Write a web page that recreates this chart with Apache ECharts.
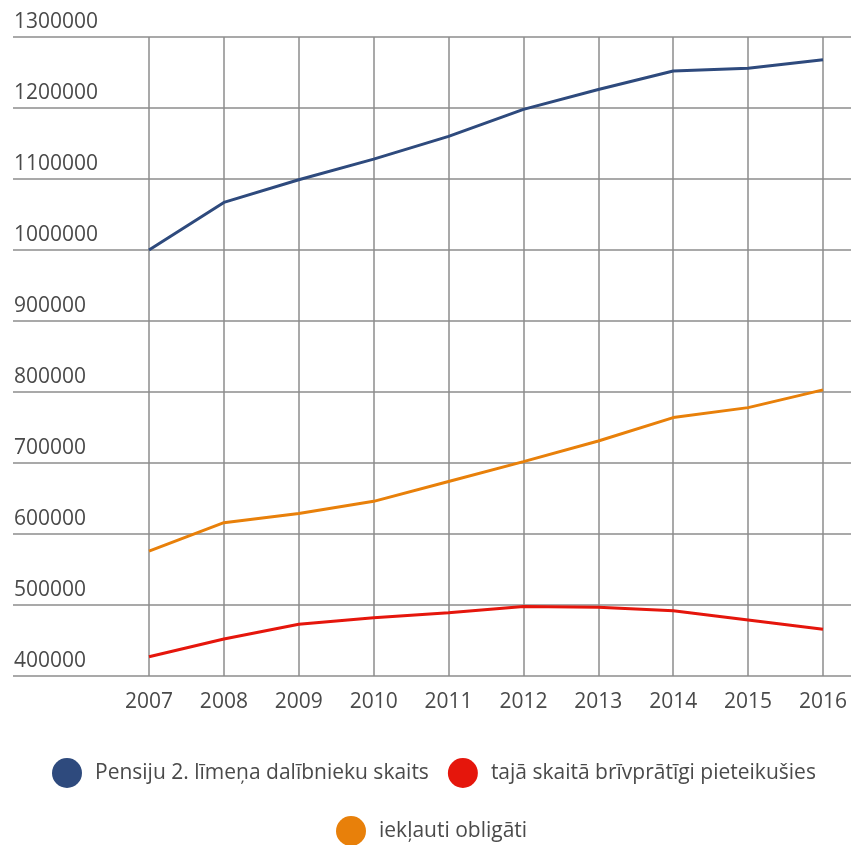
<!DOCTYPE html>
<html>
<head>
<meta charset="utf-8">
<script src="https://cdn.jsdelivr.net/npm/echarts@6/dist/echarts.min.js"></script>
<style>
  html, body { margin: 0; padding: 0; background: #fff; }
  #chart { width: 851px; height: 845px; }
</style>
</head>
<body>
<div id="chart"></div>
<script>
const years = ['2007', '2008', '2009', '2010', '2011', '2012', '2013', '2014', '2015', '2016']
const totalParticipants = [1000000, 1067000, 1099000, 1128000, 1160000, 1198000, 1226000, 1252000, 1256000, 1268000]
const voluntary = [427000, 452000, 473000, 482000, 489000, 498000, 497000, 492000, 479000, 466000]
const mandatory = [576000, 616000, 629000, 646000, 674000, 702000, 731000, 764000, 778000, 803000]
const seriesNames = [
  'Pensiju 2. līmeņa dalībnieku skaits',
  'tajā skaitā brīvprātīgi pieteikušies',
  'iekļauti obligāti'
]
const colors = ['#2e4a7d', '#e5160c', '#e8800a']
const yMin = 400000
const yMax = 1300000
const yStep = 100000

const el = document.getElementById('chart')
const chart = echarts.init(el)

const fontFamily = '"Open Sans", "Noto Sans", sans-serif'
const gridTop = 37
const gridBottom = 169
const legendText = { color: '#4a4a4a', fontSize: 21, fontFamily, padding: [0, 0, 0, 8] }

chart.setOption({
  animation: false,
  backgroundColor: '#fff',
  color: colors,
  textStyle: { fontFamily },
  grid: [
    // full-width grid carrying the horizontal lines and y labels
    { left: 13, right: 0, top: gridTop, bottom: gridBottom },
    // data grid between first and last year
    { left: 149, right: 28, top: gridTop, bottom: gridBottom }
  ],
  xAxis: [
    { gridIndex: 0, type: 'value', show: false, min: 0, max: 1 },
    {
      gridIndex: 1,
      type: 'category',
      data: years,
      boundaryGap: false,
      axisLine: { show: false },
      axisTick: { show: false },
      axisLabel: { color: '#4a4a4a', fontSize: 21, margin: 16 },
      splitLine: { show: true, lineStyle: { color: '#8c8c8c', width: 1.5 } }
    }
  ],
  yAxis: [
    {
      gridIndex: 0,
      type: 'value',
      min: yMin,
      max: yMax,
      interval: yStep,
      axisLine: { show: false },
      axisTick: { show: false },
      axisLabel: {
        inside: true,
        margin: 1,
        color: '#4a4a4a',
        fontSize: 21,
        verticalAlign: 'bottom',
        padding: [0, 0, 4, 0],
        formatter: (v) => String(v)
      },
      splitLine: { lineStyle: { color: '#8c8c8c', width: 1.5 } }
    },
    {
      gridIndex: 1,
      type: 'value',
      min: yMin,
      max: yMax,
      interval: yStep,
      show: false
    }
  ],
  legend: [
    {
      data: seriesNames.slice(0, 2),
      left: 52,
      top: 758,
      padding: 0,
      icon: 'circle',
      itemWidth: 30,
      itemHeight: 30,
      itemGap: 19,
      textStyle: legendText
    },
    {
      data: seriesNames.slice(2),
      left: 336,
      top: 816,
      padding: 0,
      icon: 'circle',
      itemWidth: 30,
      itemHeight: 30,
      textStyle: legendText
    }
  ],
  series: [
    {
      name: seriesNames[0],
      type: 'line',
      xAxisIndex: 1,
      yAxisIndex: 1,
      data: totalParticipants,
      symbol: 'none',
      lineStyle: { width: 3, color: colors[0] }
    },
    {
      name: seriesNames[1],
      type: 'line',
      xAxisIndex: 1,
      yAxisIndex: 1,
      data: voluntary,
      symbol: 'none',
      lineStyle: { width: 3, color: colors[1] }
    },
    {
      name: seriesNames[2],
      type: 'line',
      xAxisIndex: 1,
      yAxisIndex: 1,
      data: mandatory,
      symbol: 'none',
      lineStyle: { width: 3, color: colors[2] }
    }
  ]
})

window.addEventListener('resize', () => chart.resize())
</script>
</body>
</html>
